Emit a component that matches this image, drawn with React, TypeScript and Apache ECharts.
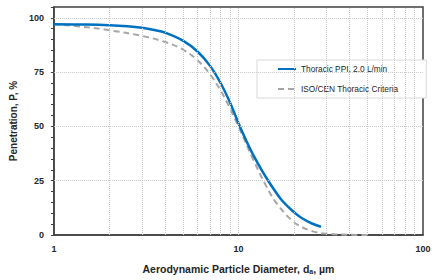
import React, { useEffect, useRef } from "react";
import * as echarts from "echarts";

const ppiDiameters = [1, 1.5, 2, 2.5, 3, 3.5, 4, 5, 6, 7, 8, 9, 10, 11, 12, 14, 17, 20, 22, 25, 28];
const ppiValues = [97.0, 96.9, 96.6, 96.1, 95.4, 94.4, 93.2, 89.5, 84.5, 78, 70, 61, 51.5, 43.6, 37, 27, 16.5, 10.5, 7.8, 5.3, 3.8];

const isoDiameters = [1, 1.5, 2, 3, 4, 5, 6, 7, 8, 9, 10, 12, 14, 16, 20, 25, 30, 40, 50];
const isoValues = [97.1, 95.7, 94.3, 91.7, 88.9, 85.4, 80.5, 74.1, 66.6, 58.3, 50.0, 34.9, 23.2, 14.9, 5.9, 1.8, 0.6, 0.1, 0];

const verticalGrid = [2, 3, 4, 5, 6, 7, 8, 9, 10, 20, 30, 40, 50, 60, 70, 80, 90];
const horizontalGrid = [25, 50, 75, 100];
const yTickLabels = [0, 25, 50, 75, 100];

const seriesNames = ["Thoracic PPI, 2.0 L/min", "ISO/CEN Thoracic Criteria"];

export default function App() {
  const ref = useRef<HTMLDivElement>(null);
  useEffect(() => {
    if (!ref.current) return;
    const chart = echarts.init(ref.current, null, { renderer: "svg" });
    const font = "'Liberation Sans', Arial, sans-serif";
    const gridLine = { color: "#c8c8c8", type: "dotted" as const, width: 1 };
    chart.setOption({
      animation: false,
      textStyle: { fontFamily: font },
      grid: {
        left: 50,
        right: 12,
        top: 7,
        bottom: 36,
        show: true,
        borderColor: "#404040",
        borderWidth: 1.5,
        backgroundColor: "#fff",
      },
      legend: {
        data: seriesNames,
        orient: "vertical",
        left: 257,
        top: 60,
        padding: [5, 28, 5, 20],
        itemGap: 12,
        itemWidth: 18,
        itemHeight: 10,
        itemStyle: { opacity: 0 },
        backgroundColor: "#fff",
        borderColor: "#d9d9d9",
        borderWidth: 1,
        textStyle: { fontSize: 8.3, color: "#262626", fontFamily: font },
      },
      xAxis: {
        type: "log",
        logBase: 10,
        min: 1,
        max: 100,
        name: "Aerodynamic Particle Diameter, d{sub|a}, µm",
        nameLocation: "middle",
        nameGap: 28,
        nameTextStyle: {
          fontSize: 10.5,
          fontWeight: "bold",
          color: "#262626",
          fontFamily: font,
          rich: {
            sub: { fontSize: 7, fontWeight: "bold", color: "#262626", verticalAlign: "bottom", padding: [5, 0, 0, 0] },
          },
        },
        axisLine: { show: true, lineStyle: { color: "#404040", width: 1.5 } },
        axisTick: { show: false },
        axisLabel: { fontSize: 9, fontWeight: "bold", color: "#262626", margin: 9 },
        splitLine: { show: false },
      },
      yAxis: {
        type: "value",
        min: 0,
        max: 105,
        interval: 5,
        name: "Penetration, P, %",
        nameLocation: "middle",
        nameGap: 35,
        nameTextStyle: { fontSize: 10, fontWeight: "bold", color: "#262626", fontFamily: font },
        axisLine: { show: true, lineStyle: { color: "#404040", width: 1.5 } },
        axisTick: { show: true, length: 3, lineStyle: { color: "#404040" } },
        axisLabel: {
          fontSize: 9,
          fontWeight: "bold",
          color: "#262626",
          margin: 10,
          formatter: (v: number) => (yTickLabels.includes(v) ? String(v) : ""),
        },
        splitLine: { show: false },
      },
      series: [
        {
          name: "gridlines",
          type: "line",
          data: [],
          z: 1,
          silent: true,
          markLine: {
            silent: true,
            symbol: "none",
            label: { show: false },
            lineStyle: gridLine,
            data: [
              ...verticalGrid.map((v) => ({ xAxis: v })),
              ...horizontalGrid.map((v) => ({ yAxis: v })),
            ],
          },
        },
        {
          name: seriesNames[0],
          type: "line",
          z: 3,
          data: ppiDiameters.map((d, i) => [d, ppiValues[i]]),
          smooth: 0.35,
          symbol: "none",
          lineStyle: { color: "#0070C0", width: 2.5 },
          itemStyle: { color: "#0070C0" },
        },
        {
          name: seriesNames[1],
          type: "line",
          z: 2,
          data: isoDiameters.map((d, i) => [d, isoValues[i]]),
          smooth: 0.35,
          symbol: "none",
          lineStyle: { color: "#A6A6A6", width: 2, type: [6, 4] },
          itemStyle: { color: "#A6A6A6" },
        },
      ],
    });
    return () => chart.dispose();
  }, []);
  return <div ref={ref} style={{ position: "absolute", left: 0, top: 0, width: 435, height: 280 }} />;
}
